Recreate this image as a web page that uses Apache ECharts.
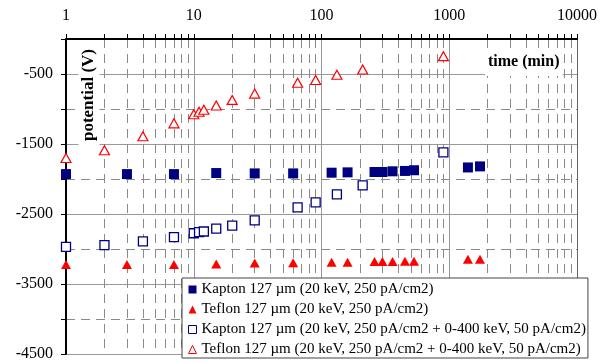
<!DOCTYPE html>
<html><head><meta charset="utf-8">
<script src="https://cdn.jsdelivr.net/npm/echarts@6/dist/echarts.min.js"></script>
<style>html,body{margin:0;padding:0;background:#fff}#c{width:600px;height:362px}</style>
</head><body><div id="c"></div>
<script>
// Kapton 127 µm (20 keV, 250 pA/cm2) — filled squares
const kaptonTime = [1, 3, 7, 15, 30, 60, 120, 160, 260, 300, 360, 450, 530, 1400, 1740];
const kaptonPot  = [-1930, -1930, -1930, -1915, -1920, -1920, -1910, -1905, -1900, -1900, -1890, -1885, -1875, -1835, -1820];
// Teflon 127 µm (20 keV, 250 pA/cm2) — filled triangles
const teflonTime = [1, 3, 7, 15, 30, 60, 120, 160, 260, 300, 360, 450, 530, 1400, 1740];
const teflonPot  = [-3220, -3220, -3220, -3215, -3200, -3195, -3190, -3190, -3180, -3180, -3180, -3175, -3175, -3145, -3145];
// Kapton 127 µm (20 keV + 0-400 keV) — hollow squares
const kaptonSpecTime = [1, 2, 4, 7, 10, 11, 12, 15, 20, 30, 65, 90, 132, 210, 900];
const kaptonSpecPot  = [-2970, -2945, -2890, -2830, -2775, -2760, -2750, -2710, -2665, -2590, -2405, -2335, -2220, -2090, -1620];
// Teflon 127 µm (20 keV + 0-400 keV) — hollow triangles
const teflonSpecTime = [1, 2, 4, 7, 10, 11, 12, 15, 20, 30, 65, 90, 132, 210, 900];
const teflonSpecPot  = [-1700, -1590, -1390, -1205, -1075, -1040, -1010, -950, -870, -780, -625, -585, -510, -435, -245];

const seriesNames = [
  'Kapton 127 µm (20 keV, 250 pA/cm2)',
  'Teflon 127 µm (20 keV, 250 pA/cm2)',
  'Kapton 127 µm (20 keV, 250 pA/cm2 + 0-400 keV, 50 pA/cm2)',
  'Teflon 127 µm (20 keV, 250 pA/cm2 + 0-400 keV, 50 pA/cm2)'
];
const xDecadeLabels = [1, 10, 100, 1000, 10000];
const xMinorTicks = [];
for (let d = 1; d < 10000; d *= 10) { for (let k = 1; k < 10; k++) xMinorTicks.push(k * d); }
xMinorTicks.push(10000);

const FONT = '"Liberation Serif", "Times New Roman", serif';
const NAVY = '#000080', RED = '#ff0000';
const zip = (a, b) => a.map((v, i) => [v, b[i]]);

const chart = echarts.init(document.getElementById('c'), null, {renderer: 'canvas'});
chart.setOption({
  animation: false,
  backgroundColor: '#fff',
  grid: {left: 66, right: 19, top: 39, bottom: 8, containLabel: false},
  xAxis: [
    {
      type: 'log', logBase: 10, min: 1, max: 10000, position: 'top',
      axisLine: {show: true, lineStyle: {color: '#000', width: 2}},
      axisTick: {show: true, length: 5, inside: false, customValues: xMinorTicks, lineStyle: {color: '#000', width: 1}},
      axisLabel: {show: true, customValues: xDecadeLabels, margin: 15, fontFamily: FONT, fontSize: 16, color: '#000', formatter: v => String(v)},
      splitLine: {show: true, lineStyle: {color: '#8a8a8a', width: 1, type: [9, 6]}},
      minorTick: {show: false}
    },
    {
      type: 'log', logBase: 10, min: 1, max: 10000, position: 'bottom',
      axisLine: {show: true, lineStyle: {color: '#000', width: 1.5}},
      axisTick: {show: false},
      axisLabel: {show: false, customValues: xDecadeLabels},
      splitLine: {show: true, lineStyle: {color: '#999', width: 1, type: 'solid'}}
    }
  ],
  yAxis: [
    {
      type: 'value', min: -4500, max: 0, interval: 500, position: 'left',
      axisLine: {show: true, lineStyle: {color: '#000', width: 2}},
      axisTick: {show: true, length: 5, inside: false, lineStyle: {color: '#000', width: 1}},
      axisLabel: {show: true, margin: 13, fontFamily: FONT, fontSize: 16, color: '#000',
        formatter: v => (v % 1000 !== 0 ? String(v) : '')},
      splitLine: {show: true, lineStyle: {color: '#8a8a8a', width: 1, type: [9, 6]}}
    },
    {
      type: 'value', min: -4500, max: 0, interval: 1000, position: 'right',
      axisLine: {show: true, lineStyle: {color: '#666', width: 1}},
      axisTick: {show: false},
      axisLabel: {show: false},
      splitLine: {show: true, lineStyle: {color: '#999', width: 1, type: 'solid'}}
    }
  ],
  legend: {
    orient: 'vertical', left: 182, top: 278,
    backgroundColor: '#fff', borderColor: '#444', borderWidth: 1, borderRadius: 0,
    padding: [4, 2, 1, 6], itemGap: 5, itemWidth: 8, itemHeight: 8,
    textStyle: {fontFamily: FONT, fontSize: 15, color: '#000', lineHeight: 14},
    data: seriesNames.map(n => ({name: n, itemStyle: {borderWidth: 1}}))
  },
  graphic: [
    {
      type: 'text', x: 485, y: 62, z: 50,
      style: {text: 'time (min)', x: 0, y: 0, align: 'left', verticalAlign: 'middle',
        font: 'bold 16px ' + FONT, fill: '#000', backgroundColor: '#fff', padding: [6, 3, 6, 3]}
    },
    {
      type: 'text', x: 89, y: 95, rotation: Math.PI / 2, z: 50,
      style: {text: 'potential (V)', x: 0, y: 0, align: 'center', verticalAlign: 'middle',
        font: 'bold 17px ' + FONT, fill: '#000', backgroundColor: '#fff', padding: [2, 6, 2, 6]}
    }
  ],
  series: [
    {name: seriesNames[0], type: 'scatter', symbol: 'rect', symbolSize: 10,
      itemStyle: {color: NAVY, opacity: 1}, data: zip(kaptonTime, kaptonPot)},
    {name: seriesNames[1], type: 'scatter', symbol: 'triangle', symbolSize: [10, 9],
      itemStyle: {color: RED, opacity: 1}, data: zip(teflonTime, teflonPot)},
    {name: seriesNames[2], type: 'scatter', symbol: 'rect', symbolSize: 9,
      itemStyle: {color: '#fff', borderColor: NAVY, borderWidth: 1.3, opacity: 1}, data: zip(kaptonSpecTime, kaptonSpecPot)},
    {name: seriesNames[3], type: 'scatter', symbol: 'triangle', symbolSize: [10, 9],
      itemStyle: {color: '#fff', borderColor: RED, borderWidth: 1.2, opacity: 1}, data: zip(teflonSpecTime, teflonSpecPot)}
  ]
});
</script></body></html>
